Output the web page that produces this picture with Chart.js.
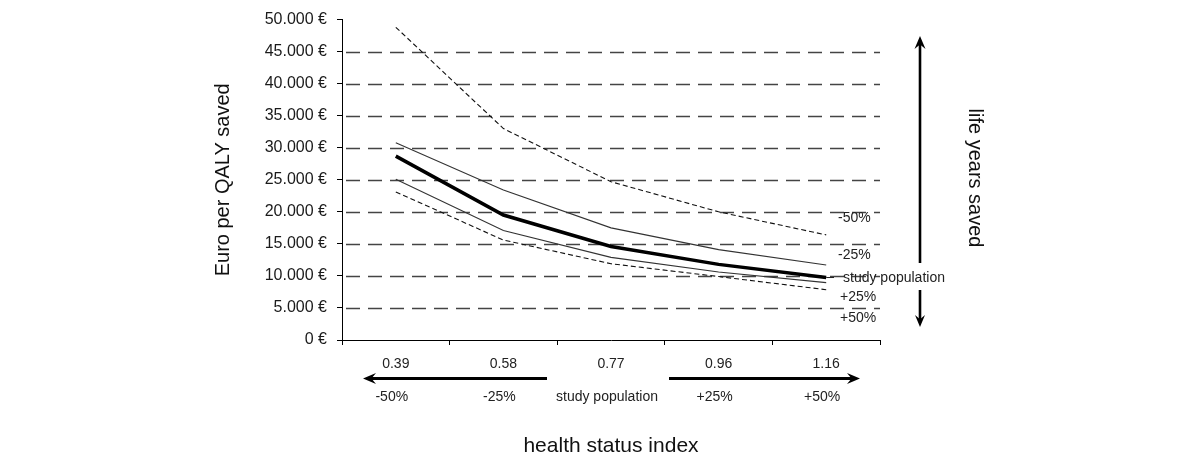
<!DOCTYPE html>
<html><head><meta charset="utf-8">
<script src="https://cdn.jsdelivr.net/npm/chart.js@4/dist/chart.umd.min.js"></script>
<style>html,body{margin:0;padding:0;background:#fff;}</style>
</head><body>
<canvas id="c" width="1200" height="463"></canvas>
<script>
// ---- data ----
const categories = ['0.39', '0.58', '0.77', '0.96', '1.16'];
const changeLabels = ['-50%', '-25%', 'study population', '+25%', '+50%'];
const lifeYearsLabels = ['-50%', '-25%', 'study population', '+25%', '+50%'];
const lifeYearsMinus50 = [48800, 33000, 24700, 20000, 16400];
const lifeYearsMinus25 = [30800, 23400, 17500, 14100, 11700];
const studyPopulation = [28700, 19500, 14600, 11800, 9750];
const lifeYearsPlus25 = [25100, 17100, 12900, 10600, 8950];
const lifeYearsPlus50 = [23100, 15600, 11900, 9900, 7850];
const yTickValues = [0, 5000, 10000, 15000, 20000, 25000, 30000, 35000, 40000, 45000, 50000];

const FONT = "Arial, 'Liberation Sans', sans-serif";

function fmtEuro(v) {
  return String(v).replace(/\B(?=(\d{3})+(?!\d))/g, '.') + ' €';
}

function arrow(ctx, x1, y1, x2, y2, w, hl, hw) {
  const dx = x2 - x1, dy = y2 - y1, L = Math.hypot(dx, dy);
  const ux = dx / L, uy = dy / L, px = -uy, py = ux;
  const bx = x2 - ux * hl, by = y2 - uy * hl;
  ctx.save();
  ctx.strokeStyle = '#000'; ctx.fillStyle = '#000'; ctx.lineWidth = w;
  ctx.beginPath(); ctx.moveTo(x1, y1); ctx.lineTo(x2 - ux * hl * 0.6, y2 - uy * hl * 0.6); ctx.stroke();
  ctx.beginPath();
  ctx.moveTo(x2, y2);
  ctx.lineTo(bx + px * hw / 2, by + py * hw / 2);
  ctx.lineTo(x2 - ux * hl * 0.65, y2 - uy * hl * 0.65);
  ctx.lineTo(bx - px * hw / 2, by - py * hw / 2);
  ctx.closePath(); ctx.fill();
  ctx.restore();
}

const decorPlugin = {
  id: 'decor',
  beforeDatasetsDraw(chart) {
    const { ctx, chartArea, scales: { y } } = chart;
    ctx.save();
    ctx.strokeStyle = '#444';
    ctx.lineWidth = 1.4;
    ctx.setLineDash([14, 8]);
    yTickValues.forEach(v => {
      if (v === yTickValues[0] || v === yTickValues[yTickValues.length - 1]) return;
      const py = Math.round(y.getPixelForValue(v)) + 0.5;
      ctx.beginPath();
      ctx.moveTo(chartArea.left + 4, py);
      ctx.lineTo(chartArea.right, py);
      ctx.stroke();
    });
    ctx.restore();
  },
  afterDraw(chart) {
    const { ctx, chartArea, scales: { x, y } } = chart;
    ctx.save();
    // right-hand series labels
    ctx.fillStyle = '#222';
    ctx.font = '14px ' + FONT;
    ctx.textBaseline = 'middle';
    ctx.textAlign = 'left';
    const rightPos = [[838, 218], [838, 255], [843, 278], [840, 297], [840, 318]];
    lifeYearsLabels.forEach((t, i) => ctx.fillText(t, rightPos[i][0], rightPos[i][1]));
    // leader line for study population
    ctx.strokeStyle = '#222'; ctx.lineWidth = 1;
    const ey = y.getPixelForValue(studyPopulation[studyPopulation.length - 1]);
    ctx.beginPath(); ctx.moveTo(x.getPixelForValue(categories.length - 1), ey); ctx.lineTo(834, ey); ctx.stroke();

    // second row labels under x axis
    ctx.textAlign = 'center';
    changeLabels.forEach((t, i) => ctx.fillText(t, x.getPixelForValue(i) - 4, 397));

    // horizontal arrows
    arrow(ctx, 547, 378.5, 363, 378.5, 2.8, 13, 11);
    arrow(ctx, 669, 378.5, 860, 378.5, 2.8, 13, 11);

    // vertical arrows
    arrow(ctx, 920, 263, 920, 36, 2.6, 13, 11);
    arrow(ctx, 920, 290, 920, 327, 2.6, 12, 10);

    // right rotated title
    ctx.fillStyle = '#111';
    ctx.font = '20px ' + FONT;
    ctx.translate(975, 178);
    ctx.rotate(Math.PI / 2);
    ctx.textAlign = 'center';
    ctx.textBaseline = 'middle';
    ctx.fillText('life years saved', 0, 0);
    ctx.restore();
  }
};

const thin = { borderColor: '#333', borderWidth: 1.1, pointRadius: 0, tension: 0, fill: false };
new Chart(document.getElementById('c'), {
  type: 'line',
  data: {
    labels: categories,
    datasets: [
      Object.assign({ label: lifeYearsLabels[0], data: lifeYearsMinus50, borderDash: [5, 3] }, thin, { borderColor: '#111' }),
      Object.assign({ label: lifeYearsLabels[1], data: lifeYearsMinus25 }, thin),
      { label: lifeYearsLabels[2], data: studyPopulation, borderColor: '#000', borderWidth: 3.5, pointRadius: 0, tension: 0, fill: false },
      Object.assign({ label: lifeYearsLabels[3], data: lifeYearsPlus25 }, thin),
      Object.assign({ label: lifeYearsLabels[4], data: lifeYearsPlus50, borderDash: [5, 3] }, thin, { borderColor: '#111' })
    ]
  },
  options: {
    responsive: false,
    animation: false,
    devicePixelRatio: 1,
    layout: { padding: { left: 207, right: 320, top: 15, bottom: 0 } },
    plugins: { legend: { display: false }, tooltip: { enabled: false } },
    scales: {
      x: {
        type: 'category',
        offset: true,
        afterFit(s) { s.height = 123; },
        grid: { offset: true, drawOnChartArea: false, drawTicks: true, tickLength: 5, tickColor: '#000', color: '#000' },
        border: { color: '#000', width: 1 },
        ticks: { color: '#222', font: { family: FONT, size: 14 }, padding: 11, maxRotation: 0 },
        title: { display: true, text: 'health status index', color: '#111', font: { family: FONT, size: 21 }, padding: { top: 0, bottom: 4 } }
      },
      y: {
        min: 0, max: 50000,
        afterFit(s) { s.width = 135; },
        afterBuildTicks(s) { s.ticks = yTickValues.map(v => ({ value: v })); },
        grid: { drawOnChartArea: false, drawTicks: true, tickLength: 5, tickColor: '#000', color: '#000' },
        border: { color: '#000', width: 1 },
        ticks: { color: '#1a1a1a', font: { family: FONT, size: 16 }, padding: 10, callback: v => fmtEuro(v) },
        title: { display: true, text: 'Euro per QALY saved', color: '#111', font: { family: FONT, size: 20 }, padding: { top: 4, bottom: 4 } }
      }
    }
  },
  plugins: [decorPlugin]
});
</script>
</body></html>
